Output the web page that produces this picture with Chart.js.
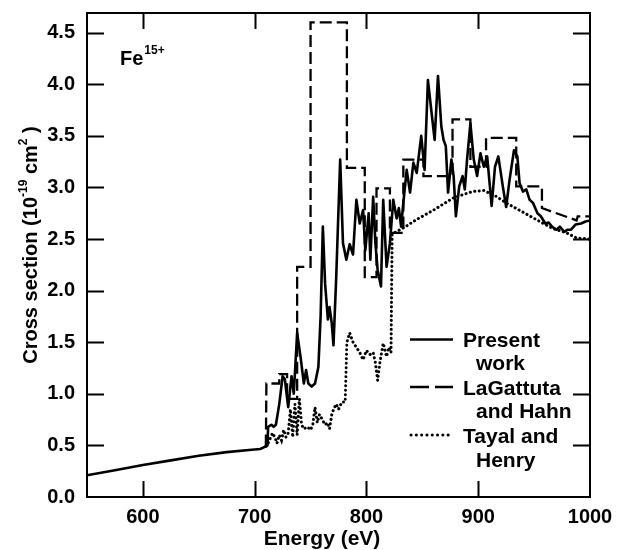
<!DOCTYPE html>
<html><head><meta charset="utf-8">
<script src="https://cdn.jsdelivr.net/npm/chart.js@4.4.1/dist/chart.umd.min.js"></script>
<style>html,body{margin:0;padding:0;background:#fff}canvas{display:block}</style>
</head><body>
<canvas id="c" width="620" height="550"></canvas>
<script>
// ---- data ----
const xTickValues = [600, 700, 800, 900, 1000];
const yTickValues = [0, 0.5, 1.0, 1.5, 2.0, 2.5, 3.0, 3.5, 4.0, 4.5];

const seriesNames = ["Present work", "LaGattuta and Hahn", "Tayal and Henry"];

const presentE = [550,575,600,625,650,675,695,705,710,711.5,712,715,717,719,722,725,727,730,733,735,738,741,744,746,748,751,754,757,759,761,763,765.5,767,769,770.5,773,776.5,779,782,785,788,791,794,797,799,802,803.5,806,808,810,813,815,818,821,824,827,829,831,833,836,839,842,845,849,852,855,858,861,864,867,869,871,873,876,878,880,883,886,888,890,893,896,899,902,905,908,912,915,918,922,925,928,932,935,937,940,943,946,949,953,956,960,963,966,970,973,977,980,983,987,992,996,1000];
const presentY = [0.21,0.26,0.31,0.355,0.40,0.435,0.455,0.465,0.49,0.50,0.68,0.70,0.68,0.70,0.90,1.17,1.14,0.87,1.17,1.00,1.59,1.36,1.10,1.23,1.10,1.07,1.10,1.26,1.75,2.62,2.07,1.72,1.84,1.68,1.47,2.14,3.27,2.46,2.30,2.45,2.35,2.88,2.65,2.78,2.39,2.75,2.30,2.91,2.46,2.20,2.04,2.88,2.23,2.46,2.88,2.70,2.80,2.62,2.85,3.17,2.95,3.24,3.14,3.50,3.17,4.04,3.75,3.46,4.08,3.59,3.46,3.40,2.95,3.27,3.11,2.72,3.01,3.11,2.98,3.27,3.62,3.27,3.11,3.33,3.20,3.30,2.82,3.20,3.30,3.01,2.81,3.07,3.36,3.30,3.04,2.96,2.98,2.88,2.85,2.75,2.72,2.65,2.66,2.62,2.59,2.62,2.57,2.59,2.59,2.64,2.65,2.67,2.68];

const lagE = [710,710.5,722,722,729,729,738,738,750,750,782.5,782.5,798.5,798.5,809,809,821,821,833,833,851,851,877,877,893,893,907,907,934,934,957,957,988,989,1000];
const lagY = [0.49,1.10,1.10,1.19,1.19,0.95,0.95,2.23,2.23,4.60,4.60,3.19,3.19,2.13,2.13,2.99,2.99,2.56,2.56,3.27,3.27,3.11,3.11,3.66,3.66,3.20,3.20,3.48,3.48,3.01,3.01,2.80,2.68,2.72,2.72];

const tayalE = [710,712,716,718,720,722,724,726,728,730,732,734,736,738,740,742,744,747,750,752,754,756,758,761,763,765,767,769,771,773,775,778,781,782.5,785,788,791,794,797,800,803,806,808,810,812,815,818,820,822,823,825,835,845,860,878,895,905,915,925,940,955,967,979,988,1000];
const tayalY = [0.49,0.52,0.62,0.58,0.52,0.60,0.55,0.65,0.58,0.62,0.85,0.58,0.90,0.60,0.95,0.70,0.66,0.68,0.65,0.70,0.87,0.72,0.80,0.74,0.70,0.72,0.66,0.80,0.86,0.90,0.85,0.92,0.92,1.50,1.59,1.50,1.45,1.40,1.33,1.42,1.38,1.40,1.30,1.13,1.30,1.49,1.36,1.45,1.40,2.55,2.56,2.62,2.69,2.78,2.90,2.96,2.97,2.92,2.85,2.76,2.67,2.60,2.56,2.51,2.50];

const toPts = (xs, ys) => xs.map((v, i) => ({x: v, y: ys[i]}));

const FONT = '"Liberation Sans", Arial, Helvetica, sans-serif';

const decor = {
  id: 'decor',
  afterDatasetsDraw(chart) {
    const {ctx, chartArea: a, scales: {x, y}} = chart;
    ctx.save();
    ctx.strokeStyle = '#000';
    ctx.fillStyle = '#000';
    ctx.setLineDash([]);
    ctx.lineWidth = 2;
    ctx.strokeRect(a.left, a.top, a.right - a.left, a.bottom - a.top);
    // inward ticks
    y.ticks.forEach(t => {
      if (t.value <= 0) return;
      const p = Math.round(y.getPixelForValue(t.value)) + 0.5;
      ctx.beginPath();
      ctx.moveTo(a.left, p); ctx.lineTo(a.left + 17, p);
      ctx.moveTo(a.right - 17, p); ctx.lineTo(a.right, p);
      ctx.stroke();
    });
    x.ticks.forEach(t => {
      if (t.value >= 1000 || t.value <= 550) return;
      const p = Math.round(x.getPixelForValue(t.value)) + 0.5;
      ctx.beginPath();
      ctx.moveTo(p, a.bottom); ctx.lineTo(p, a.bottom - 16);
      ctx.moveTo(p, a.top); ctx.lineTo(p, a.top + 16);
      ctx.stroke();
    });
    // Fe label
    ctx.textBaseline = 'alphabetic';
    ctx.textAlign = 'left';
    ctx.font = 'bold 20px ' + FONT;
    ctx.fillText('Fe', 120, 65);
    const feW = ctx.measureText('Fe').width;
    ctx.font = 'bold 12px ' + FONT;
    ctx.fillText('15+', 120 + feW + 1, 54);
    // x title
    ctx.font = 'bold 21px ' + FONT;
    ctx.textAlign = 'center';
    ctx.fillText('Energy (eV)', 322, 545);
    // y title with superscripts
    ctx.save();
    ctx.translate(37, 245);
    ctx.rotate(-Math.PI / 2);
    ctx.textAlign = 'left';
    const parts = [
      ['Cross section (10', 20, 0], ['-19', 12, -10], [' cm', 20, 0], ['2', 12, -10], [' )', 20, 0]
    ];
    let total = 0;
    parts.forEach(p => { ctx.font = 'bold ' + p[1] + 'px ' + FONT; total += ctx.measureText(p[0]).width; });
    let cx = -total / 2;
    parts.forEach(p => {
      ctx.font = 'bold ' + p[1] + 'px ' + FONT;
      ctx.fillText(p[0], cx, p[2]);
      cx += ctx.measureText(p[0]).width;
    });
    ctx.restore();
    // legend
    ctx.textAlign = 'left';
    ctx.lineCap = 'butt';
    ctx.lineWidth = 2.6;
    ctx.setLineDash([]);
    ctx.beginPath(); ctx.moveTo(410, 339.5); ctx.lineTo(453, 339.5); ctx.stroke();
    ctx.lineWidth = 2.4;
    ctx.setLineDash([19, 6]);
    ctx.beginPath(); ctx.moveTo(410, 387); ctx.lineTo(453, 387); ctx.stroke();
    ctx.lineWidth = 3;
    ctx.lineCap = 'round';
    ctx.setLineDash([0.1, 5.2]);
    ctx.beginPath(); ctx.moveTo(411, 435); ctx.lineTo(450, 435); ctx.stroke();
    ctx.setLineDash([]);
    ctx.font = 'bold 21px ' + FONT;
    ctx.fillText('Present', 463, 347);
    ctx.fillText('work', 476, 370);
    ctx.fillText('LaGattuta', 463, 395);
    ctx.fillText('and Hahn', 476, 418);
    ctx.fillText('Tayal and', 463, 443);
    ctx.fillText('Henry', 476, 467);
    ctx.restore();
  }
};

new Chart(document.getElementById('c'), {
  type: 'line',
  data: {
    datasets: [
      { label: seriesNames[0], data: toPts(presentE, presentY), borderColor: '#000', borderWidth: 2.6,
        pointRadius: 0, tension: 0, fill: false, borderJoinStyle: 'round' },
      { label: seriesNames[1], data: toPts(lagE, lagY), borderColor: '#000', borderWidth: 2.3,
        borderDash: [12, 5], pointRadius: 0, tension: 0, fill: false, borderJoinStyle: 'miter' },
      { label: seriesNames[2], data: toPts(tayalE, tayalY), borderColor: '#000', borderWidth: 3,
        borderDash: [0.1, 4.4], borderCapStyle: 'round', pointRadius: 0, tension: 0, fill: false }
    ]
  },
  options: {
    responsive: false,
    animation: false,
    devicePixelRatio: 1,
    layout: { padding: { top: 13, right: 30, left: 0, bottom: 0 } },
    plugins: { legend: { display: false }, tooltip: { enabled: false } },
    scales: {
      x: {
        type: 'linear', min: 550, max: 1000,
        afterBuildTicks: s => { s.ticks = xTickValues.map(v => ({value: v})); },
        afterFit: s => { s.height = 53; s.paddingLeft = 0; s.paddingRight = 0; },
        grid: { display: false, drawTicks: false },
        border: { display: false },
        ticks: { color: '#000', padding: 8, maxRotation: 0, autoSkip: false,
          font: { family: FONT, size: 20, weight: 'bold' },
          callback: v => String(v) }
      },
      y: {
        type: 'linear', min: 0, max: 4.69,
        afterBuildTicks: s => { s.ticks = yTickValues.map(v => ({value: v})); },
        afterFit: s => { s.width = 87; s.paddingTop = 0; s.paddingBottom = 0; },
        grid: { display: false, drawTicks: false },
        border: { display: false },
        ticks: { color: '#000', padding: 12, autoSkip: false,
          font: { family: FONT, size: 20, weight: 'bold' },
          callback: v => Number(v).toFixed(1) }
      }
    }
  },
  plugins: [decor]
});
</script>
</body></html>
